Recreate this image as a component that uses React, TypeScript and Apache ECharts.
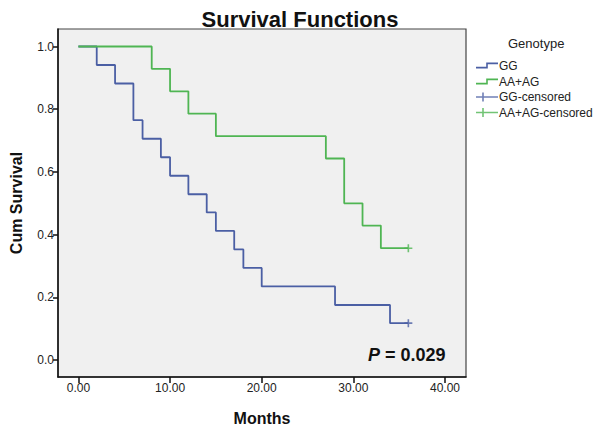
import React, { useEffect, useRef } from "react";
import * as echarts from "echarts";

const ggMonths = [0, 2, 4, 6, 7, 9, 10, 12, 14, 15, 17, 18, 20, 28, 34, 36];
const ggSurvival = [1.0, 0.941, 0.882, 0.765, 0.706, 0.647, 0.588, 0.529, 0.471, 0.412, 0.353, 0.294, 0.235, 0.176, 0.118, 0.118];
const aaMonths = [0, 8, 10, 12, 15, 27, 29, 31, 33, 36];
const aaSurvival = [1.0, 0.929, 0.857, 0.786, 0.714, 0.643, 0.5, 0.429, 0.357, 0.357];
const ggCensoredMonths = [36];
const ggCensoredSurvival = [0.118];
const aaCensoredMonths = [36];
const aaCensoredSurvival = [0.357];
const xTicks = [0, 10, 20, 30, 40];
const yTicks = [0, 0.2, 0.4, 0.6, 0.8, 1.0];
const legendNames = ["GG", "AA+AG", "GG-censored", "AA+AG-censored"];
const pValueText = "0.029";

const FONT = "'Liberation Sans', Arial, sans-serif";
const BLUE = "#4b5fa4";
const GREEN = "#4fb553";
const STEP_ICON = "path://M0,4.2H10.2V0H22V1.6H11.8V5.8H0Z";
const CENSOR_ICON = "path://M0,3.7H22V5.3H0Z M6.2,0H7.8V9H6.2Z";
const PLUS = "path://M-0.8,-4H0.8V4H-0.8Z M-4,-0.8H4V0.8H-4Z";

const zip = (a: number[], b: number[]) => a.map((v, i) => [v, b[i]]);

export default function App() {
  const ref = useRef<HTMLDivElement>(null);
  useEffect(() => {
    if (!ref.current) return;
    const chart = echarts.init(ref.current, null, { renderer: "svg" });
    const legendTops = [59.5, 75.5, 91, 106.5];
    chart.setOption({
      animation: false,
      backgroundColor: "#ffffff",
      title: {
        text: "Survival Functions",
        left: "center",
        top: 3,
        textStyle: { fontFamily: FONT, fontSize: 22, fontWeight: "bold", color: "#111" },
      },
      grid: {
        left: 52,
        top: 29,
        width: 414,
        height: 352,
        show: true,
        backgroundColor: "#f0f0f0",
        borderColor: "#444",
        borderWidth: 1.2,
      },
      xAxis: {
        type: "value",
        min: -2.226,
        max: 42.29,
        name: "Months",
        nameLocation: "middle",
        nameGap: 33,
        nameTextStyle: { fontFamily: FONT, fontSize: 16, fontWeight: "bold", color: "#111" },
        axisLine: { show: true, onZero: false, lineStyle: { color: "#111", width: 1.5 } },
        axisTick: { show: true, length: 6, customValues: xTicks, lineStyle: { color: "#111", width: 1.5 } },
        axisLabel: {
          customValues: xTicks,
          margin: 5,
          fontFamily: FONT,
          fontSize: 12,
          color: "#222",
          formatter: (v: number) => v.toFixed(2),
        },
        splitLine: { show: false },
      },
      yAxis: {
        type: "value",
        min: -0.0536,
        max: 1.0558,
        name: "Cum Survival",
        nameLocation: "middle",
        nameRotate: 90,
        nameGap: 34,
        nameTextStyle: { fontFamily: FONT, fontSize: 16, fontWeight: "bold", color: "#111" },
        axisLine: { show: true, onZero: false, lineStyle: { color: "#111", width: 1.5 } },
        axisTick: { show: true, length: 5, customValues: yTicks, lineStyle: { color: "#111", width: 1.5 } },
        axisLabel: {
          customValues: yTicks,
          margin: 4,
          fontFamily: FONT,
          fontSize: 12,
          color: "#222",
          formatter: (v: number) => v.toFixed(1),
        },
        splitLine: { show: false },
      },
      legend: legendNames.map((name, i) => ({
        data: [{ name, icon: i < 2 ? STEP_ICON : CENSOR_ICON }],
        left: 476,
        top: legendTops[i],
        orient: "vertical",
        padding: 0,
        itemWidth: 22,
        itemHeight: i < 2 ? 6 : 9,
        itemGap: 2,
        selectedMode: false,
        textStyle: { fontFamily: FONT, fontSize: 12, color: "#222", padding: [0, 0, 0, -4] },
      })),
      graphic: [
        {
          type: "text",
          left: 508,
          top: 37,
          style: { text: "Genotype", font: `13px ${FONT}`, fill: "#222" },
        },
        {
          type: "text",
          left: 368,
          top: 346,
          style: {
            text: "{i|P} = " + pValueText,
            font: `bold 18px ${FONT}`,
            fill: "#111",
            rich: { i: { fontStyle: "italic", fontWeight: "bold", fontSize: 18, fontFamily: FONT } },
          },
        },
      ],
      series: [
        {
          name: "GG",
          type: "line",
          step: "end",
          showSymbol: false,
          symbol: "none",
          data: zip(ggMonths, ggSurvival),
          itemStyle: { color: BLUE },
          lineStyle: { color: BLUE, width: 1.8 },
          z: 2,
        },
        {
          name: "AA+AG",
          type: "line",
          step: "end",
          showSymbol: false,
          symbol: "none",
          data: zip(aaMonths, aaSurvival),
          itemStyle: { color: GREEN },
          lineStyle: { color: GREEN, width: 1.8 },
          z: 3,
        },
        {
          name: "GG-censored",
          type: "scatter",
          symbol: PLUS,
          symbolSize: 8,
          data: zip(ggCensoredMonths, ggCensoredSurvival),
          itemStyle: { color: BLUE },
          z: 4,
        },
        {
          name: "AA+AG-censored",
          type: "scatter",
          symbol: PLUS,
          symbolSize: 8,
          data: zip(aaCensoredMonths, aaCensoredSurvival),
          itemStyle: { color: GREEN },
          z: 4,
        },
      ],
    });
    return () => chart.dispose();
  }, []);
  return <div ref={ref} style={{ width: 600, height: 431, position: "absolute", left: 0, top: 0 }} />;
}
